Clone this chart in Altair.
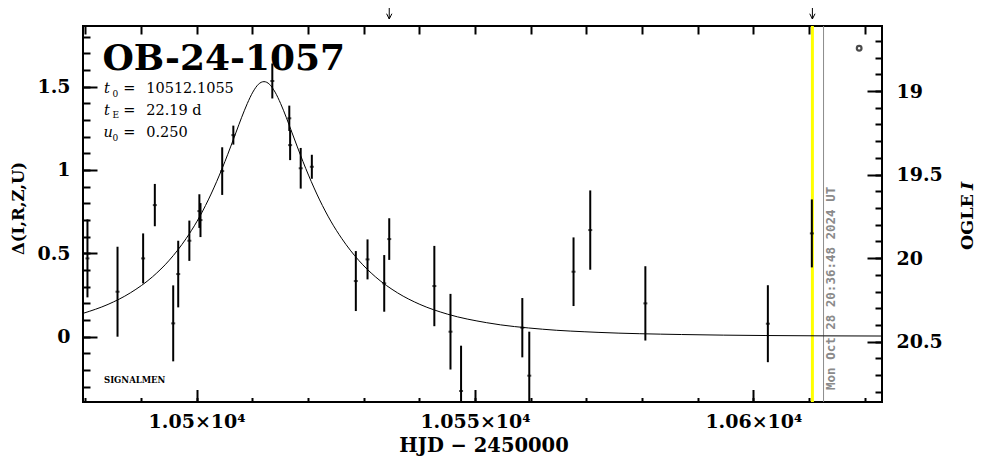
import altair as alt
import pandas as pd

# ---- data ----
hjd = [10480.4, 10485.8, 10490.4, 10492.5, 10495.8, 10496.7, 10498.7, 10500.5, 10500.7, 10504.6,
       10506.6, 10513.6, 10516.65, 10516.8, 10518.7, 10520.7, 10528.6, 10530.7, 10533.7, 10534.6,
       10542.7, 10545.6, 10547.5, 10558.5, 10559.75, 10567.7, 10570.7, 10580.6, 10602.6, 10610.5]
delta = [0.469, 0.269, 0.469, 0.789, 0.079, 0.375, 0.575, 0.753, 0.699, 0.993,
         1.209, 1.534, 1.310, 1.149, 1.010, 1.019, 0.333, 0.463, 0.319, 0.585,
         0.303, 0.029, -0.327, 0.053, -0.235, 0.389, 0.639, 0.199, 0.077, 0.619]
err = [0.234, 0.270, 0.150, 0.127, 0.228, 0.200, 0.121, 0.101, 0.102, 0.143,
       0.057, 0.105, 0.076, 0.090, 0.122, 0.072, 0.180, 0.120, 0.170, 0.125,
       0.241, 0.227, 0.272, 0.178, 0.264, 0.206, 0.238, 0.223, 0.231, 0.204]

model_t = [10479.6, 10484.1, 10488.1, 10492.1, 10495.1, 10498.1, 10500.1, 10502.1, 10503.1, 10504.1,
           10505.1, 10506.1, 10507.1, 10508.1, 10509.1, 10510.1, 10511.1, 10511.6, 10512.1, 10512.6,
           10513.1, 10514.1, 10515.1, 10516.1, 10517.1, 10518.1, 10519.1, 10520.1, 10521.1, 10522.1,
           10524.1, 10526.1, 10529.1, 10532.1, 10536.1, 10540.1, 10545.1, 10552.1, 10562.1, 10572.1,
           10587.1, 10602.1, 10623.1]
model_d = [0.139, 0.193, 0.262, 0.359, 0.458, 0.587, 0.693, 0.820, 0.892, 0.969,
           1.051, 1.138, 1.227, 1.316, 1.398, 1.467, 1.514, 1.526, 1.530, 1.526,
           1.514, 1.467, 1.398, 1.316, 1.227, 1.138, 1.051, 0.969, 0.892, 0.820,
           0.693, 0.587, 0.458, 0.359, 0.262, 0.193, 0.134, 0.083, 0.044, 0.025,
           0.012, 0.006, 0.003]

now_hjd = [10610.6]
clock_hjd = [10612.6]
arrow_hjd = [10534.6, 10610.6]

x_major = [10500, 10550, 10600]
x_minor = [10480 + 10 * i for i in range(15)]
y_major = [0, 0.5, 1, 1.5]
y_minor = [round(-0.3 + 0.1 * i, 1) for i in range(22)]
m_major = [19, 19.5, 20, 20.5]
m_minor = [round(18.7 + 0.1 * i, 1) for i in range(22)]

X_DOM = [10479.6, 10623.1]
Y_DOM = [-0.393, 1.864]
M_DOM = [18.611, 20.861]

SERIF = "DejaVu Serif"

pts = pd.DataFrame({"hjd": hjd, "delta": delta,
                    "lo": [d - e for d, e in zip(delta, err)],
                    "hi": [d + e for d, e in zip(delta, err)]})
model = pd.DataFrame({"t": model_t, "d": model_d})


def xs():
    return alt.Scale(domain=X_DOM, nice=False, zero=False)


def ys():
    return alt.Scale(domain=Y_DOM, nice=False, zero=False)


def ms():
    return alt.Scale(domain=M_DOM, nice=False, zero=False, reverse=True)


def tick_axis(orient, size, values):
    return alt.Axis(orient=orient, offset=-size, tickSize=size, tickWidth=2, tickColor="black",
                    values=values, labels=False, domain=False, grid=False, title=None)


def label_axis(orient, size, values, expr, pad):
    return alt.Axis(orient=orient, offset=-size, tickSize=size, tickWidth=2, tickColor="black",
                    values=values, domain=False, grid=False, title=None,
                    labelExpr=expr, labelFont=SERIF, labelFontSize=19, labelFontWeight="bold",
                    labelColor="black", labelPadding=pad, labelOverlap=False, labelFlush=False)


ax_bottom = label_axis("bottom", 12.5, x_major, "format(datum.value / 10000, '.4~f') + '×10⁴'", 10)
ax_left = label_axis("left", 14, y_major, "format(datum.value, '~g')", 13)
ax_right = label_axis("right", 15, m_major, "format(datum.value, '~g')", 14)

yellow = alt.Chart(pd.DataFrame({"t": now_hjd})).mark_rule(color="#ffff00", strokeWidth=3).encode(
    x=alt.X("t:Q", scale=xs(), axis=None))
gray = alt.Chart(pd.DataFrame({"t": clock_hjd})).mark_rule(color="#8c8c8c", strokeWidth=1).encode(
    x=alt.X("t:Q", scale=xs(), axis=None))

curve = alt.Chart(model).mark_line(color="black", strokeWidth=1, interpolate="monotone", clip=True).encode(
    x=alt.X("t:Q", scale=xs(), axis=ax_bottom),
    y=alt.Y("d:Q", scale=ys(), axis=ax_left))

bars = alt.Chart(pts).mark_rule(color="black", strokeWidth=2, clip=True).encode(
    x=alt.X("hjd:Q", scale=xs(), axis=tick_axis("bottom", 4.5, x_minor)),
    y=alt.Y("lo:Q", scale=ys(), axis=tick_axis("left", 7, y_minor)),
    y2="hi:Q")

dots = alt.Chart(pts).mark_tick(color="black", orient="horizontal", thickness=2, clip=True).encode(
    x=alt.X("hjd:Q", scale=xs(), axis=tick_axis("top", 8, x_minor)),
    y=alt.Y("delta:Q", scale=ys(), axis=None),
    size=alt.value(4))

osym = alt.Chart(pd.DataFrame({"t": [10619.0], "m": [18.744]})).mark_point(
    shape="circle", filled=False, color="black", strokeWidth=2.2, size=22).encode(
    x=alt.X("t:Q", scale=xs(), axis=None),
    y=alt.Y("m:Q", scale=ms(), axis=ax_right))

date = alt.Chart(pd.DataFrame({"t": [10613.9], "m": [20.789], "s": ["Mon Oct 28 20:36:48 2024 UT"]})).mark_text(
    angle=270, align="left", baseline="middle", font="DejaVu Sans Mono", fontWeight="bold",
    fontSize=12.5, color="#8a8a8a").encode(
    x=alt.X("t:Q", scale=xs(), axis=None),
    y=alt.Y("m:Q", scale=ms(), axis=tick_axis("right", 7, m_minor)),
    text="s:N")

arrows = alt.Chart(pd.DataFrame({"t": arrow_hjd})).mark_rule(color="black", strokeWidth=1).encode(
    x=alt.X("t:Q", scale=xs(), axis=None), y=alt.value(-18), y2=alt.value(-7))
heads = alt.Chart(pd.DataFrame({"t": arrow_hjd})).mark_point(
    shape="M-1,-2L0,0L1,-2", filled=False, color="black", strokeWidth=1, size=28, opacity=1).encode(
    x=alt.X("t:Q", scale=xs(), axis=None), y=alt.value(-7))


def txt(s, x, y, **kw):
    base = dict(align="left", baseline="alphabetic", font=SERIF, color="black")
    base.update(kw)
    return alt.Chart(pd.DataFrame({"s": [s]})).mark_text(**base).encode(
        text="s:N", x=alt.value(x), y=alt.value(y))


texts = [
    txt("OB-24-1057", 19.5, 44, fontSize=36, fontWeight="bold"),
    txt("t", 21, 67.3, fontSize=14.5, fontStyle="italic"),
    txt("0", 29.5, 70.5, fontSize=9),
    txt("=", 40.3, 67.3, fontSize=14.5),
    txt("10512.1055", 63.2, 67.3, fontSize=14.5),
    txt("t", 21, 89, fontSize=14.5, fontStyle="italic"),
    txt("E", 29.5, 92.2, fontSize=9),
    txt("=", 40.3, 89, fontSize=14.5),
    txt("22.19 d", 63.2, 89, fontSize=14.5),
    txt("u", 20.5, 111.3, fontSize=14.5, fontStyle="italic"),
    txt("0", 29.5, 114.5, fontSize=9),
    txt("=", 40.3, 111.3, fontSize=14.5),
    txt("0.250", 63.2, 111.3, fontSize=14.5),
    txt("SIGNALMEN", 21, 357.3, fontSize=8.5, fontWeight="bold"),
    txt("Δ(I,R,Z,U)", -64.5, 182.5, fontSize=16.5, fontWeight="bold", angle=270, align="center",
        baseline="middle"),
    txt("OGLE", 885, 224, fontSize=17.5, fontWeight="bold", angle=270, baseline="middle"),
    txt("I", 885, 164, fontSize=17.5, fontWeight="bold", fontStyle="italic", angle=270, baseline="middle"),
    txt("HJD − 2450000", 401, 426, fontSize=19.5, fontWeight="bold", align="center"),
]

chart = alt.layer(yellow, gray, curve, bars, dots, osym, date, arrows, heads, *texts).resolve_scale(
    x="independent", y="independent"
).properties(
    width=799, height=376,
    padding={"left": 75, "top": 18, "right": 96, "bottom": 57},
    autosize=alt.AutoSizeParams(type="none"),
    background="white",
).configure_view(stroke="black", strokeWidth=2)

chart.save("out.html", embed_options={"renderer": "svg", "actions": False})
